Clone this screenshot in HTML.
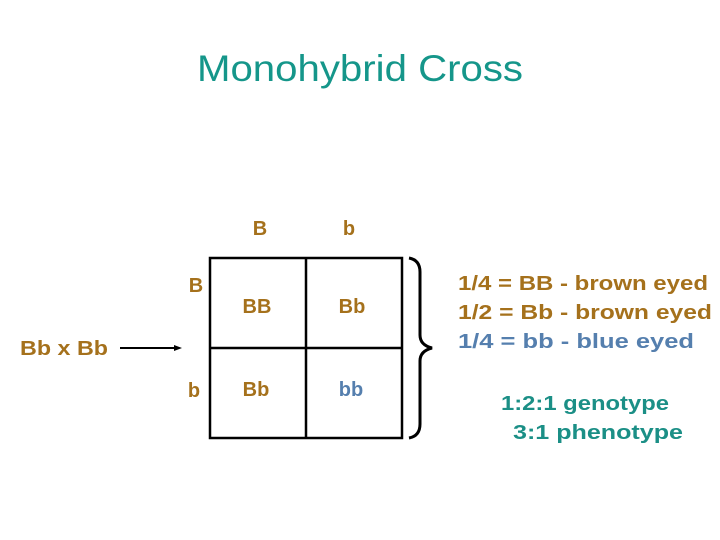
<!DOCTYPE html>
<html><head><style>html,body{margin:0;padding:0;background:#fff}svg{display:block}</style></head>
<body>
<svg width="720" height="540" viewBox="0 0 720 540" xmlns="http://www.w3.org/2000/svg" font-family="Liberation Sans, Arial, sans-serif">
<text x="197" y="81" font-size="37" fill="#15968a" textLength="326" lengthAdjust="spacingAndGlyphs">Monohybrid Cross</text>
<g fill="#a5711c" font-size="20" font-weight="bold">
<text x="260" y="235" text-anchor="middle">B</text>
<text x="349" y="235" text-anchor="middle">b</text>
<text x="196" y="292" text-anchor="middle">B</text>
<text x="194" y="397" text-anchor="middle">b</text>
<text x="257" y="313" text-anchor="middle">BB</text>
<text x="352" y="313" text-anchor="middle">Bb</text>
<text x="256" y="396" text-anchor="middle">Bb</text>
<text x="20" y="355" textLength="88" lengthAdjust="spacingAndGlyphs">Bb x Bb</text>
<text x="458" y="290" textLength="250" lengthAdjust="spacingAndGlyphs">1/4 = BB - brown eyed</text>
<text x="458" y="319" textLength="254" lengthAdjust="spacingAndGlyphs">1/2 = Bb  - brown eyed</text>
</g>
<g fill="#557fae" font-size="20" font-weight="bold">
<text x="351" y="396" text-anchor="middle">bb</text>
<text x="458" y="348" textLength="236" lengthAdjust="spacingAndGlyphs">1/4 = bb   - blue eyed</text>
</g>
<g fill="#1b8f86" font-size="20" font-weight="bold">
<text x="501" y="410" textLength="168" lengthAdjust="spacingAndGlyphs">1:2:1 genotype</text>
<text x="513" y="439" textLength="170" lengthAdjust="spacingAndGlyphs">3:1  phenotype</text>
</g>
<g stroke="#000" stroke-width="2.5" fill="none">
<rect x="210" y="258" width="192" height="180"/>
<line x1="306" y1="258" x2="306" y2="438"/>
<line x1="210" y1="348" x2="402" y2="348"/>
<path d="M409 258 Q420 260 420 272 L420 335 Q420 345 432 348 Q420 351 420 361 L420 424 Q420 436 409 438" stroke-width="3"/>
<line x1="120" y1="348" x2="176" y2="348" stroke-width="2"/>
</g>
<polygon points="182,348 174,345 174,351" fill="#000"/>
</svg>
</body></html>
